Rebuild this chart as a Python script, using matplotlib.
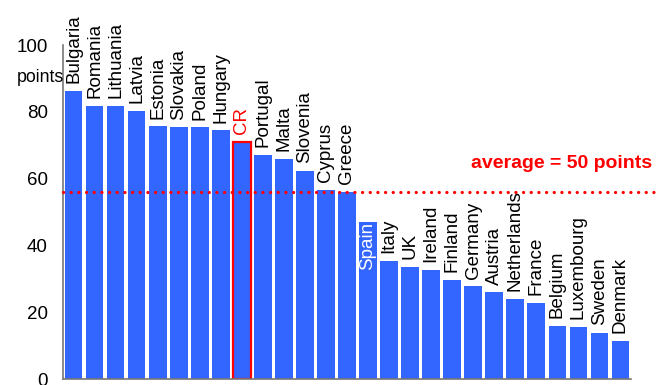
import matplotlib.pyplot as plt

plt.rcParams['font.family'] = ['Liberation Sans', 'DejaVu Sans']

# countries ordered by score, points
countries = ['Bulgaria', 'Romania', 'Lithuania', 'Latvia', 'Estonia', 'Slovakia',
             'Poland', 'Hungary', 'CR', 'Portugal', 'Malta', 'Slovenia', 'Cyprus',
             'Greece', 'Spain', 'Italy', 'UK', 'Ireland', 'Finland', 'Germany',
             'Austria', 'Netherlands', 'France', 'Belgium', 'Luxembourg', 'Sweden',
             'Denmark']
points = [86.3, 81.7, 81.7, 80.2, 75.7, 75.4, 75.4, 74.5, 71.0, 67.1, 65.9, 62.3,
          56.6, 56.1, 47.1, 35.3, 33.5, 32.6, 29.6, 27.8, 26.0, 24.0, 22.8, 15.9,
          15.6, 13.8, 11.4]
average_line = 56
yticks = [0, 20, 40, 60, 80, 100]

BLUE = '#3366ff'
RED = '#ff0000'

fig = plt.figure(figsize=(6.66, 3.85), dpi=100)
ax = fig.add_axes([63 / 666, 6 / 385, 568 / 666, 334 / 385])

x = list(range(len(countries)))
bars = ax.bar(x, points, width=0.84, color=BLUE, zorder=2)

# highlight the Czech Republic
cr = countries.index('CR')
bars[cr].set_edgecolor(RED)
bars[cr].set_linewidth(1.6)

for i, (name, val) in enumerate(zip(countries, points)):
    if name == 'Spain':
        # label would hit the average line, so it goes inside the bar
        ax.annotate(name, (i, val), xytext=(0, 0), textcoords='offset points',
                    rotation=90, ha='center', va='top', fontsize=13.5,
                    color='white', zorder=4)
        continue
    ax.annotate(name, (i, val), xytext=(0, 5.5), textcoords='offset points',
                rotation=90, ha='center', va='bottom', fontsize=13.5,
                color=RED if name == 'CR' else 'black', zorder=4,
                annotation_clip=False)

ax.axhline(average_line, xmin=0, xmax=1.042, color=RED, linewidth=2.3,
           linestyle=(0, (0.05, 2.35)), dash_capstyle='round', clip_on=False,
           zorder=3)
fig.text(652 / 666, 1 - 163 / 385, 'average = 50 points', color=RED,
         fontsize=14, fontweight='bold', ha='right', va='center')

ax.set_xlim(-0.5, len(countries) - 0.5)
ax.set_ylim(0, 100)
ax.set_yticks(yticks)
ax.set_xticks([])
ax.tick_params(axis='y', length=0, pad=11, labelsize=13.5)
for side in ['top', 'right']:
    ax.spines[side].set_visible(False)
for side in ['left', 'bottom']:
    ax.spines[side].set_color('#777777')
    ax.spines[side].set_linewidth(1.2)

fig.text(17 / 666, 1 - 78 / 385, 'points', fontsize=12.8, ha='left', va='center')

fig.savefig('out.png', dpi=100)
